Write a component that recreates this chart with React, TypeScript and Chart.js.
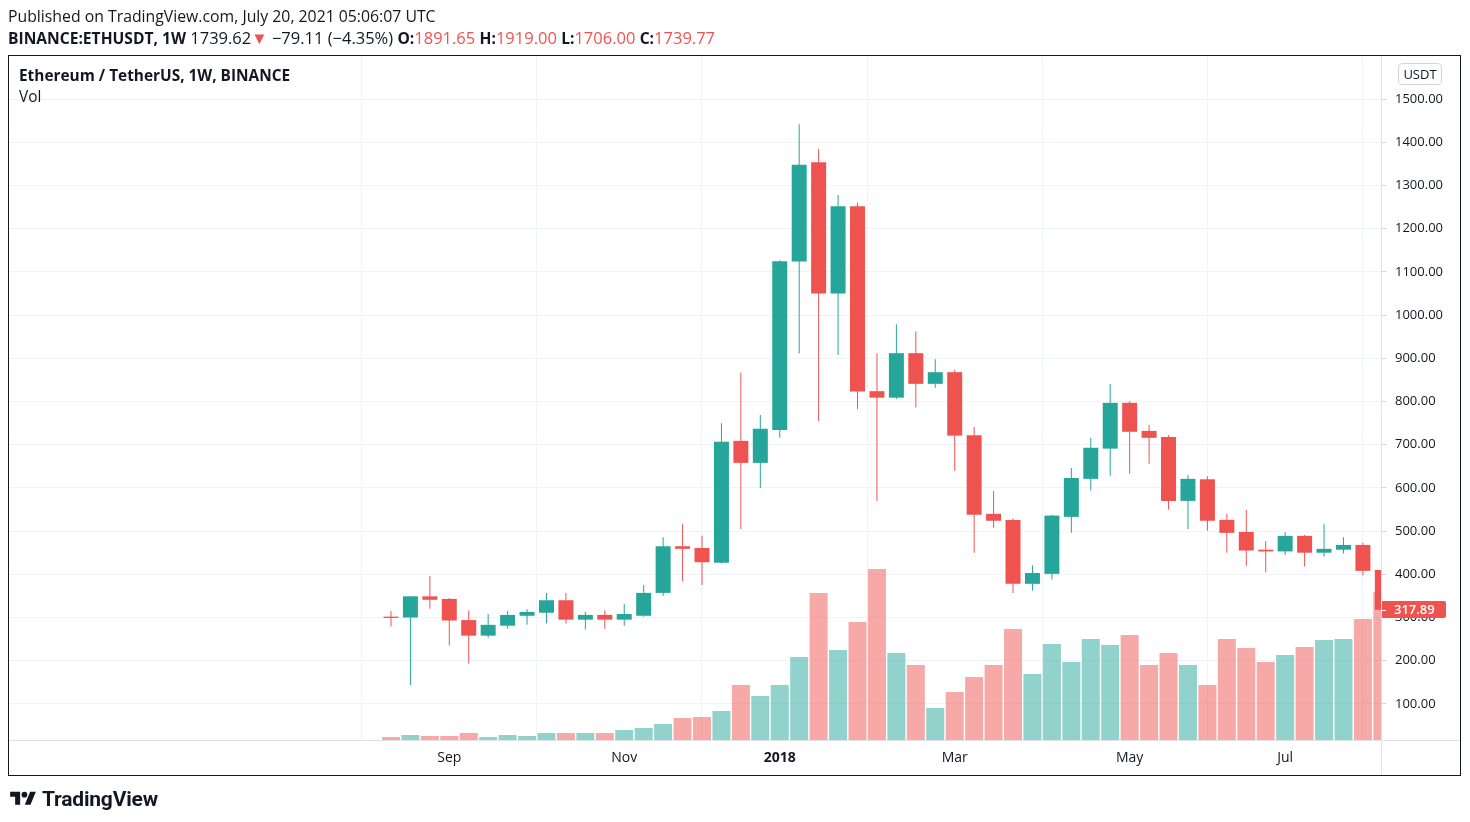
import React, { useEffect, useRef } from 'react';
import { Chart, registerables } from 'chart.js';

Chart.register(...registerables);

// ---- data (weekly candles, BINANCE:ETHUSDT) ----
const weeks = [
  '2017-08-14', '2017-08-21', '2017-08-28', '2017-09-04', '2017-09-11', '2017-09-18', '2017-09-25',
  '2017-10-02', '2017-10-09', '2017-10-16', '2017-10-23', '2017-10-30', '2017-11-06', '2017-11-13',
  '2017-11-20', '2017-11-27', '2017-12-04', '2017-12-11', '2017-12-18', '2017-12-25', '2018-01-01',
  '2018-01-08', '2018-01-15', '2018-01-22', '2018-01-29', '2018-02-05', '2018-02-12', '2018-02-19',
  '2018-02-26', '2018-03-05', '2018-03-12', '2018-03-19', '2018-03-26', '2018-04-02', '2018-04-09',
  '2018-04-16', '2018-04-23', '2018-04-30', '2018-05-07', '2018-05-14', '2018-05-21', '2018-05-28',
  '2018-06-04', '2018-06-11', '2018-06-18', '2018-06-25', '2018-07-02', '2018-07-09', '2018-07-16',
  '2018-07-23', '2018-07-30', '2018-08-06',
];

const opens = [
  302, 300, 349, 343, 294, 258, 281, 304, 311, 340, 295, 306, 295, 304, 357, 465, 461, 427, 709, 658,
  734, 1124, 1354, 1050, 1252, 824, 809, 912, 841, 868, 722, 540, 526, 378, 401, 533, 621, 691, 797, 732,
  718, 570, 620, 526, 498, 457, 453, 489, 450, 457, 468, 410,
];
const highs = [
  315, 350, 396, 345, 317, 308, 315, 319, 357, 357, 313, 317, 331, 375, 486, 516, 489, 750, 867, 769,
  1127, 1442, 1385, 1278, 1260, 912, 979, 963, 898, 873, 741, 593, 530, 421, 538, 646, 716, 841, 801, 746,
  722, 630, 627, 540, 549, 477, 498, 491, 517, 486, 473, 412,
];
const lows = [
  279, 144, 320, 235, 193, 253, 274, 283, 286, 286, 272, 274, 281, 302, 350, 384, 375, 425, 505, 600,
  716, 911, 755, 908, 783, 570, 806, 786, 832, 640, 450, 508, 357, 362, 388, 496, 594, 628, 633, 656,
  550, 505, 501, 450, 420, 404, 445, 418, 441, 448, 397, 315,
];
const closes = [
  299, 349, 341, 293, 258, 283, 306, 313, 340, 295, 306, 295, 308, 357, 465, 459, 428, 707, 658, 737,
  1125, 1348, 1050, 1252, 823, 809, 912, 841, 868, 721, 538, 524, 378, 403, 536, 623, 693, 797, 730, 716,
  570, 621, 524, 496, 455, 453, 489, 450, 459, 468, 408, 317.89,
];
// relative weekly volume (arbitrary units)
const volumes = [
  3, 5, 4, 4, 7, 3, 5, 4, 7, 7, 7, 7, 10, 12, 16, 22, 23, 29, 55, 44,
  55, 83, 147, 90, 118, 171, 87, 75, 32, 48, 63, 75, 111, 66, 96, 78, 101, 95, 105, 75,
  87, 75, 55, 101, 92, 78, 85, 93, 100, 101, 121, 148,
];

const priceTicks = [100, 200, 300, 400, 500, 600, 700, 800, 900, 1000, 1100, 1200, 1300, 1400, 1500];
const timeTickLabels = ['Sep', 'Nov', '2018', 'Mar', 'May', 'Jul'];
const timeTickWeeks = ['2017-09-04', '2017-11-06', '2018-01-01', '2018-03-05', '2018-05-07', '2018-07-02'];

const UP = '#26a69a';
const DOWN = '#ef5350';
const UP_VOL = 'rgba(38,166,154,0.5)';
const DOWN_VOL = 'rgba(239,83,80,0.5)';
const TEXT = '#131722';
const GRID = '#f0f3fa';
const AXIS_FONT = '"Open Sans", Roboto, sans-serif';
const UI_FONT = '"Open Sans", Roboto, sans-serif';

const frameAndLabel = {
  id: 'frameAndLabel',
  afterDraw(chart: any) {
    const { ctx, chartArea, scales } = chart;
    ctx.save();
    // separators
    ctx.strokeStyle = '#e0e3eb';
    ctx.lineWidth = 1;
    ctx.beginPath();
    ctx.moveTo(Math.round(chartArea.right) + 0.5, 56);
    ctx.lineTo(Math.round(chartArea.right) + 0.5, 775);
    ctx.moveTo(9, Math.round(chartArea.bottom) + 0.5);
    ctx.lineTo(1461, Math.round(chartArea.bottom) + 0.5);
    ctx.stroke();
    // frame
    ctx.strokeStyle = '#131722';
    ctx.strokeRect(8.5, 55.5, 1452, 720);
    // last price label
    const last = closes[closes.length - 1];
    const y = scales.y.getPixelForValue(last);
    const x0 = Math.round(chartArea.right) + 1;
    ctx.fillStyle = DOWN;
    ctx.beginPath();
    const w = 64, h = 17;
    const top = Math.round(y - h / 2);
    ctx.moveTo(x0, top);
    ctx.lineTo(x0 + w - 2, top);
    ctx.quadraticCurveTo(x0 + w, top, x0 + w, top + 2);
    ctx.lineTo(x0 + w, top + h - 2);
    ctx.quadraticCurveTo(x0 + w, top + h, x0 + w - 2, top + h);
    ctx.lineTo(x0, top + h);
    ctx.closePath();
    ctx.fill();
    ctx.strokeStyle = '#ffffff';
    ctx.beginPath();
    ctx.moveTo(x0, Math.round(y) + 0.5);
    ctx.lineTo(x0 + 4, Math.round(y) + 0.5);
    ctx.stroke();
    ctx.fillStyle = '#ffffff';
    ctx.font = `600 13px ${AXIS_FONT}`;
    ctx.textBaseline = 'middle';
    ctx.textAlign = 'left';
    ctx.fillText(last.toFixed(2), x0 + 12, top + h / 2 + 0.5);
    ctx.restore();
  },
};

function CandleChart() {
  const ref = useRef<HTMLCanvasElement | null>(null);
  useEffect(() => {
    if (!ref.current) return;
    const idx = weeks.map((_, i) => i);
    const isUp = (i: number) => closes[i] >= opens[i];
    const tickIdx = timeTickWeeks.map((w) => weeks.indexOf(w));
    const chart = new Chart(ref.current, {
      type: 'bar',
      data: {
        datasets: [
          {
            label: 'Body',
            data: idx.map((i) => ({ x: i, y: [opens[i], closes[i]] })) as any,
            backgroundColor: idx.map((i) => (isUp(i) ? UP : DOWN)),
            barThickness: 15,
            minBarLength: 1,
            grouped: false,
            borderWidth: 0,
            inflateAmount: 0,
            yAxisID: 'y',
            order: 1,
            clip: 0,
          } as any,
          {
            label: 'Wick',
            data: idx.map((i) => ({ x: i, y: [lows[i], highs[i]] })) as any,
            backgroundColor: idx.map((i) => (isUp(i) ? UP : DOWN)),
            barThickness: 1,
            grouped: false,
            borderWidth: 0,
            inflateAmount: 0,
            yAxisID: 'y',
            order: 2,
            clip: 0,
          } as any,
          {
            label: 'Vol',
            data: idx.map((i) => ({ x: i, y: volumes[i] })) as any,
            backgroundColor: idx.map((i) => (isUp(i) ? UP_VOL : DOWN_VOL)),
            barThickness: 18,
            grouped: false,
            borderWidth: 0,
            inflateAmount: 0,
            yAxisID: 'v',
            order: 3,
            clip: 0,
          } as any,
        ],
      },
      options: {
        animation: false,
        responsive: false,
        maintainAspectRatio: false,
        events: [],
        layout: { padding: { left: 9, top: 56, right: 9, bottom: 47 } },
        plugins: { legend: { display: false }, tooltip: { enabled: false } },
        scales: {
          x: {
            type: 'linear',
            min: -19.65,
            max: 50.93,
            offset: false,
            afterBuildTicks: (s: any) => {
              s.ticks = tickIdx.map((v) => ({ value: v }));
            },
            afterFit: (s: any) => {
              s.height = 35;
            },
            grid: { color: GRID, drawTicks: false },
            border: { display: false },
            ticks: {
              autoSkip: false,
              maxRotation: 0,
              padding: 10,
              color: TEXT,
              callback: (_v: any, i: number) => timeTickLabels[i],
              font: (c: any) =>
                /^\d{4}$/.test(timeTickLabels[c.index] || '')
                  ? { family: AXIS_FONT, size: 14, weight: 'bold' }
                  : { family: AXIS_FONT, size: 14 },
            },
          } as any,
          y: {
            type: 'linear',
            position: 'right',
            min: 16.4,
            max: 1600,
            afterBuildTicks: (s: any) => {
              s.ticks = priceTicks.map((v) => ({ value: v }));
            },
            afterFit: (s: any) => {
              s.width = 80;
            },
            grid: { color: GRID, tickColor: '#d1d4dc', tickLength: 5, drawTicks: true },
            border: { display: false },
            ticks: {
              padding: 9,
              color: TEXT,
              font: { family: AXIS_FONT, size: 13 },
              callback: (v: any) => Number(v).toFixed(2),
            },
          } as any,
          v: {
            type: 'linear',
            display: false,
            min: 0,
            max: 684,
          },
        },
      },
      plugins: [frameAndLabel],
    } as any);
    return () => chart.destroy();
  }, []);
  return <canvas ref={ref} width={1470} height={822} style={{ position: 'absolute', left: 0, top: 0 }} />;
}

function Logo() {
  return (
    <div style={{ position: 'absolute', left: 8, top: 787, display: 'flex', alignItems: 'center', gap: 4 }}>
      <svg width="30" height="20" viewBox="0 0 36 28">
        <path d="M14 22H7V11H0V4h14v18z" fill="#131722" />
        <circle cx="20" cy="8" r="4" fill="#131722" />
        <path d="M28 4h8l-7.5 18H20.5z" fill="#131722" />
      </svg>
      <span style={{ fontFamily: 'Roboto, sans-serif', fontSize: 21, fontWeight: 700, color: TEXT, letterSpacing: -0.2 }}>TradingView</span>
    </div>
  );
}

export default function App() {
  const red = { color: DOWN };
  const b = { fontWeight: 700, fontSize: 15.6 };
  return (
    <div style={{ position: 'fixed', left: 0, top: 0, width: 1470, height: 822, background: '#ffffff', overflow: 'hidden' }}>
      <CandleChart />
      <div style={{ position: 'absolute', left: 8, top: 5, fontFamily: UI_FONT, fontSize: 15.8, color: TEXT, whiteSpace: 'nowrap', lineHeight: '22px' }}>
        Published on TradingView.com, July 20, 2021 05:06:07 UTC
      </div>
      <div style={{ position: 'absolute', left: 8, top: 27, fontFamily: UI_FONT, fontSize: 16.5, color: TEXT, whiteSpace: 'nowrap', lineHeight: '22px' }}>
        <span style={b}>BINANCE:ETHUSDT, 1W</span> 1739.62<span style={red}>▼</span> −79.11 (−4.35%){' '}
        <span style={b}>O:</span><span style={red}>1891.65</span> <span style={b}>H:</span><span style={red}>1919.00</span>{' '}
        <span style={b}>L:</span><span style={red}>1706.00</span> <span style={b}>C:</span><span style={red}>1739.77</span>
      </div>
      <div style={{ position: 'absolute', left: 19, top: 65, fontFamily: UI_FONT, fontSize: 15.4, fontWeight: 700, color: TEXT, whiteSpace: 'nowrap', lineHeight: '22px' }}>
        Ethereum / TetherUS, 1W, BINANCE
      </div>
      <div style={{ position: 'absolute', left: 19, top: 86, fontFamily: UI_FONT, fontSize: 15.4, color: TEXT, lineHeight: '22px' }}>Vol</div>
      <div
        style={{
          position: 'absolute', left: 1398, top: 63, width: 42, height: 20, border: '1px solid #d1d4dc', borderRadius: 4,
          fontFamily: AXIS_FONT, fontSize: 13, color: TEXT, textAlign: 'center', lineHeight: '20px', boxSizing: 'content-box',
        }}
      >
        USDT
      </div>
      <Logo />
    </div>
  );
}
